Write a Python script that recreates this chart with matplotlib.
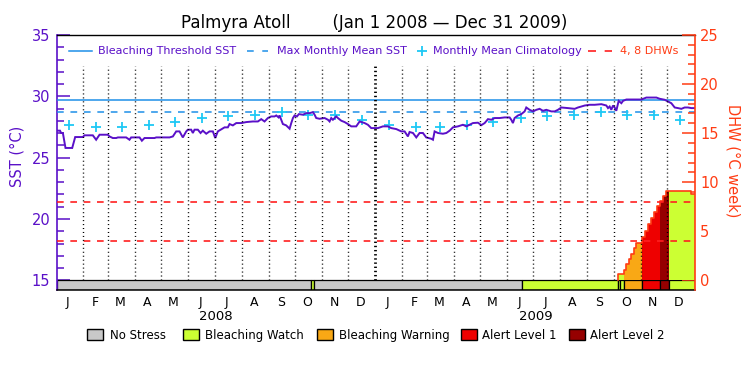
import numpy as np
import matplotlib
matplotlib.use("Agg")
import matplotlib.pyplot as plt
from matplotlib.lines import Line2D
from matplotlib.patches import Rectangle
from matplotlib.transforms import blended_transform_factory

# ---------------- data (days since 2008-01-01) ----------------
sst_day = [0, 4, 5.3, 7.3, 10.3, 18, 21.4, 30.2, 32, 41.6, 45.4, 49.3, 58.8, 60.7, 64.5,
           68.4, 70.3, 79.8, 83.6, 85.5, 95.1, 97.8, 100.8, 112.3, 114.2, 129.5, 133.3,
           137.1, 140.9, 144.7, 148.6, 150.5, 154.3, 156.2, 158.1, 161.9, 165, 167.6,
           171.5, 175.3, 179.1, 181.8, 184.8, 192.5, 196.3, 198.2, 202, 205.9, 211.6,
           217.3, 224.9, 230.7, 234.5, 238.3,
           242.1, 245.9, 249.8, 251.7, 254.4, 255.5, 257.4, 259.3, 263.1, 267, 268.9,
           270.8, 272.7, 275.4, 277.6, 282.2, 286.1, 289.9, 293.7, 295.6, 297.5, 301.3,
           307.1, 310.9, 312.8, 314.7, 316.6, 320.4, 322.3, 326.2, 330, 333.8, 337.6,
           343.3, 347.2, 352.9, 356.7, 360.5, 368.2, 373.9, 379.6, 383.4, 389.2, 394.9,
           398.7, 402.5, 404.4, 408.3, 412.1, 415.9, 419.7, 423.5, 429.3, 431.2, 433.1,
           436.9, 442.6, 446.5, 450.3, 454.1, 459.8, 465.5, 469.4, 473.2, 477, 482.7,
           486.6, 490.4, 494.2, 498, 501.8, 507.6, 513.3, 519, 520.9, 522.8, 524.7,
           528.6, 532.4, 536.2, 538.1, 541.9, 545.8, 549.6, 553.4, 557.2, 561, 566.8,
           570.6, 574.4, 578.2, 585.9, 593.5, 597.3, 605, 610.7, 616.4, 624.1, 629.8,
           631.7, 633.6, 635.5, 637.4, 639.3, 641.2, 643.9, 647, 648.9, 652.7, 660.3,
           669.9, 673.7, 675.6, 687.1, 690.9, 696.6, 700.4, 704.2, 708.1, 711.9, 715.7,
           719.5, 723.3, 727.2, 731]
sst_val = [27.20, 27.20, 27.01, 27.01, 25.79, 25.79, 26.68, 26.68, 26.82, 26.82, 26.46,
           26.87, 26.87, 26.73, 26.60, 26.60, 26.65, 26.65, 26.46, 26.65, 26.65, 26.38,
           26.60, 26.60, 26.65, 26.65, 26.73, 27.14, 27.14, 26.65, 27.14, 27.28, 27.28,
           27.01, 27.28, 27.28, 27.01, 27.20, 26.95, 27.14, 27.14, 26.60, 27.14, 27.47,
           27.47, 27.74, 27.63, 27.82, 27.82, 27.90, 27.95, 27.95, 28.14, 27.95,
           28.23, 28.36, 28.36, 28.44, 28.28, 28.44, 28.09, 27.74, 27.63, 27.36, 27.82,
           28.23, 28.44, 28.36, 28.55, 28.50, 28.63, 28.63, 28.71, 28.50, 28.23, 28.17,
           28.23, 28.09, 27.95, 28.23, 28.09, 28.36, 28.23, 28.01, 27.90, 27.74, 27.55,
           27.55, 27.95, 27.82, 27.68, 27.41, 27.41, 27.55, 27.55, 27.41, 27.33, 27.14,
           27.14, 26.73, 27.09, 27.01, 26.65, 27.01, 27.01, 26.65, 26.54, 26.46, 27.14,
           27.01, 26.95, 27.01, 27.20, 27.47, 27.55, 27.68, 27.55, 27.68, 27.82, 27.85,
           27.65, 27.82, 28.14, 28.09, 28.23, 28.23, 28.28, 28.28, 28.09, 27.82, 28.23,
           28.44, 28.55, 28.77, 29.09, 28.90, 28.77, 28.90, 28.98, 28.82, 28.90, 28.77,
           28.77, 28.90, 29.09, 29.04, 28.98, 29.09, 29.25, 29.31, 29.31, 29.36, 29.25,
           29.04, 29.17, 28.90, 29.25, 29.09, 28.82, 29.63, 29.44, 29.63, 29.74, 29.74,
           29.74, 29.85, 29.90, 29.90, 29.80, 29.72, 29.58, 29.44, 29.09, 29.04, 28.98,
           29.09, 29.09, 29.04, 29.04]

clim_val = [27.63, 27.47, 27.47, 27.63, 27.87, 28.23, 28.36, 28.50, 28.71, 28.48, 28.48, 28.03]
bleaching_threshold = 29.72
max_monthly_mean = 28.72
dhw_levels_lines = [4, 8]

dhw_day = [643.1, 649.9, 652.3, 655.4, 658.4, 661.1, 664.2, 670.2, 673.7, 677.5, 680.6,
           684.4, 687.4, 691.2, 694.7, 697.8, 701.0, 727.2]
dhw_val = [0.6, 1.1, 1.7, 2.2, 2.7, 3.3, 3.8, 4.4, 5.0, 5.7, 6.4, 7.0, 7.6, 8.1, 8.6, 9.1, 9.1, 8.8]
dhw_level = [1, 2, 2, 2, 2, 2, 2, 3, 3, 3, 3, 3, 3, 4, 4, 4, 1, 1]

stress_start = [0, 292.0, 295.3, 533.6, 643.1, 645.8, 649.9, 670.5, 691.5, 701.3]
stress_end = [292.0, 295.3, 533.6, 643.1, 645.8, 649.9, 670.5, 691.5, 701.3, 731]
stress_level = [0, 1, 0, 1, 1, 1, 2, 3, 4, 1]

level_names = ['No Stress', 'Bleaching Watch', 'Bleaching Warning', 'Alert Level 1', 'Alert Level 2']
level_colors = ['#c8c8c8', '#ccff33', '#f9a815', '#ee0000', '#960000']
month_letters = ['J', 'F', 'M', 'A', 'M', 'J', 'J', 'A', 'S', 'O', 'N', 'D']
years = ['2008', '2009']
title = 'Palmyra Atoll        (Jan 1 2008 \u2014 Dec 31 2009)'

# ---------------- style ----------------
PURPLE = '#5a10c8'
BLUE = '#1e8fe8'
CYAN = '#1ec8f5'
RED = '#ff2020'
ORANGE_AX = '#ff3c14'
W, H = 750.0, 375.0
N_DAYS = 731

month_starts = (np.arange('2008-01', '2010-01', dtype='datetime64[M]').astype('datetime64[D]')
                - np.datetime64('2008-01-01')).astype(int)

fig = plt.figure(figsize=(7.5, 3.75), dpi=100)
fig.patch.set_facecolor('white')


def fx(x):
    return x / W


def fy(y):
    return 1 - y / H


L, R, T, B = 56.5, 694.7, 35.0, 290.3
ax = fig.add_axes([L / W, 1 - B / H, (R - L) / W, (B - T) / H])
sst_bot = 15 - (B - 280.3) / ((280.3 - T) / 20.0)
dhw_bot = 0 - (B - 280.3) / ((280.3 - T) / 25.0)
ax.set_xlim(0, N_DAYS)
ax.set_ylim(sst_bot, 35)

# stress bar
for s, e, lv in zip(stress_start, stress_end, stress_level):
    ax.add_patch(Rectangle((s, sst_bot), e - s, 15 - sst_bot, facecolor=level_colors[lv],
                           edgecolor='black', linewidth=0.9, zorder=2))

# reference lines
ax.axhline(bleaching_threshold, color=BLUE, lw=1.1, zorder=3)
ax.axhline(max_monthly_mean, color=BLUE, lw=1.1, ls=(0, (4.4, 4.4)), zorder=3)

clim_x = month_starts + 14.5
clim_y = clim_val + clim_val
ax.plot(clim_x, clim_y, ls='none', marker='+', ms=7, mew=1.3, color=CYAN, zorder=4)

ax.plot(sst_day, sst_val, color=PURPLE, lw=1.4, zorder=5, solid_joinstyle='miter')

# axes styling
ax.spines['right'].set_visible(False)
ax.spines['left'].set_color(PURPLE)
ax.spines['left'].set_linewidth(1.2)
ax.spines['top'].set_linewidth(1.0)
ax.spines['bottom'].set_linewidth(1.1)
ax.set_yticks([15, 20, 25, 30, 35])
ax.set_yticks(list(range(16, 35)), minor=True)
ax.tick_params(axis='y', which='major', direction='in', length=9.5, width=1.1,
               color=PURPLE, labelcolor=PURPLE, labelsize=10.5, pad=4.5)
ax.tick_params(axis='y', which='minor', direction='in', length=5, width=1.1, color=PURPLE)
ax.set_xticks(month_starts + 13)
ax.set_xticklabels(month_letters * 2)
ax.tick_params(axis='x', length=0, labelsize=9, pad=4)

# DHW axis
ax2 = ax.twinx()
ax2.set_ylim(dhw_bot, 25)
widths = list(np.diff(dhw_day)) + [N_DAYS - dhw_day[-1]]
ax2.bar(dhw_day, dhw_val, width=widths, align='edge',
        color=[level_colors[l] for l in dhw_level], linewidth=0, zorder=2)
sx = [dhw_day[0]] + dhw_day + [N_DAYS]
sy = [0] + dhw_val + [dhw_val[-1]]
ax2.step(sx, sy, where='post', color=ORANGE_AX, lw=1.2, zorder=3)
for lv in dhw_levels_lines:
    ax2.axhline(lv, color=RED, lw=1.2, ls=(0, (4.0, 4.0)), zorder=4)

dot_top = (280.3 - 66) / ((280.3 - T) / 25.0)
for m in month_starts[1:]:
    if m == 366:
        ax2.plot([m - 1, m - 1], [0, dot_top], color='black', lw=2,
                 ls=(0, (0.5, 1.0)), zorder=5)
    else:
        ax2.plot([m - 1, m - 1], [0, dot_top], color='black', lw=1,
                 ls=(0, (0.75, 2.1)), zorder=5)

for sp in ['left', 'top', 'bottom']:
    ax2.spines[sp].set_visible(False)
ax2.spines['right'].set_color(ORANGE_AX)
ax2.spines['right'].set_linewidth(1.2)
ax2.set_yticks([0, 5, 10, 15, 20, 25])
ax2.set_yticks([v for v in range(1, 25) if v % 5], minor=True)
ax2.tick_params(axis='y', which='major', direction='in', length=9.5, width=1.1,
                color=ORANGE_AX, labelcolor=ORANGE_AX, labelsize=10.5, pad=4)
ax2.tick_params(axis='y', which='minor', direction='in', length=5, width=1.1, color=ORANGE_AX)

# axis labels
fig.text(fx(16.5), fy(156.5), 'SST (\u00b0C)', color=PURPLE, fontsize=10.5,
         rotation=90, ha='center', va='center')
fig.text(fx(733), fy(161), 'DHW (\u00b0C week)', color=ORANGE_AX, fontsize=10.5,
         rotation=270, ha='center', va='center')

# title
fig.text(fx(374), fy(23), title, ha='center', va='center', fontsize=12, color='black')

# year labels
tr = blended_transform_factory(ax.transData, fig.transFigure)
for i, yr in enumerate(years):
    ax.text((month_starts[12 * i] + (366 if i == 0 else 365) / 2.0), fy(316), yr,
            transform=tr, ha='center', va='center', fontsize=9.5, clip_on=False)

# top legend
ly = fy(51)
fig.add_artist(Line2D([fx(69), fx(92)], [ly, ly], color=BLUE, lw=1.1))
fig.text(fx(98), ly, 'Bleaching Threshold SST', color=PURPLE, fontsize=8, va='center')
fig.add_artist(Line2D([fx(246.7), fx(268.3)], [ly, ly], color=BLUE, lw=1.1,
                      ls=(0, (4.4, 5.6))))
fig.text(fx(277), ly, 'Max Monthly Mean SST', color=PURPLE, fontsize=8, va='center')
fig.add_artist(Line2D([fx(421.7)], [ly], color=CYAN, marker='+', ms=7, mew=1.3, ls='none'))
fig.text(fx(433), ly, 'Monthly Mean Climatology', color=PURPLE, fontsize=8, va='center')
fig.add_artist(Line2D([fx(588.3), fx(611.7)], [ly, ly], color=RED, lw=1.2,
                      ls=(0, (4.8, 5.2))))
fig.text(fx(620), ly, '4, 8 DHWs', color=ORANGE_AX, fontsize=8, va='center')

# bottom legend
box_x = [87.3, 183.3, 317.3, 461.0, 569.3]
txt_x = [110, 205, 339, 482, 590]
for i, name in enumerate(level_names):
    fig.add_artist(Rectangle((fx(box_x[i]), fy(340)), 16 / W, 11 / H, transform=fig.transFigure,
                             facecolor=level_colors[i], edgecolor='black', linewidth=1))
    fig.text(fx(txt_x[i]), fy(335.5), name, fontsize=8.5, va='center', color='black')

fig.savefig('out.png', dpi=100, facecolor='white')
